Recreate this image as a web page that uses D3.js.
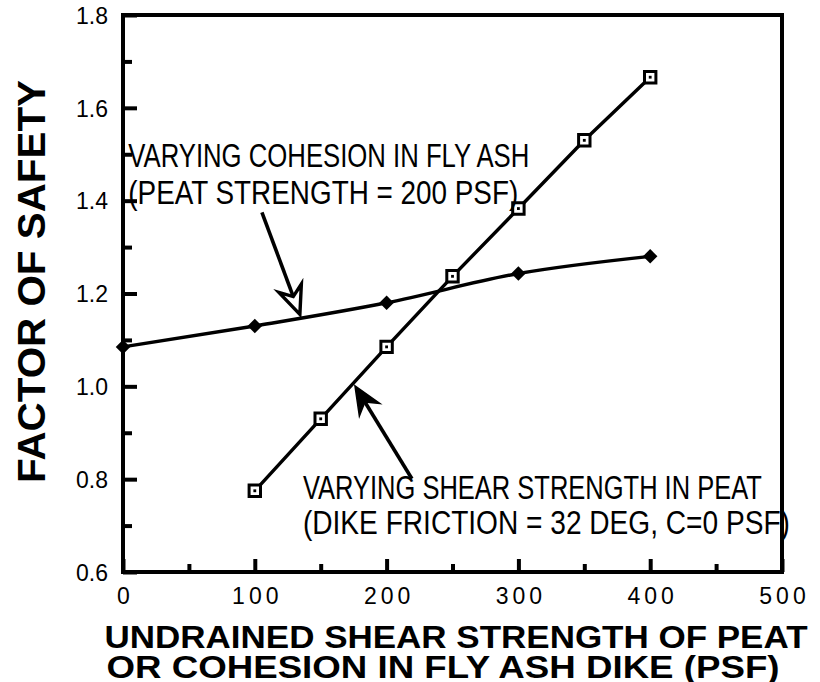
<!DOCTYPE html>
<html>
<head>
<meta charset="utf-8">
<script src="https://cdn.jsdelivr.net/npm/d3@7"></script>
<style>
    html, body { margin: 0; padding: 0; background: #fff; }
    svg text { font-family: "Liberation Sans", Helvetica, Arial, sans-serif; fill: #000; }
</style>
</head>
<body>
<div id="chart"></div>
<script>
// values
var xTicks       = [0, 100, 200, 300, 400, 500];
var xMinorTicks  = [50, 150, 250, 350, 450];
var yTicks       = [0.6, 0.8, 1.0, 1.2, 1.4, 1.6, 1.8];
var yMinorTicks  = [0.7, 0.9, 1.1, 1.3, 1.5, 1.7];

// varying cohesion in fly ash (filled diamonds)
var cohesionX    = [0, 100, 200, 300, 400];
var cohesionFS   = [1.085, 1.13, 1.18, 1.243, 1.28];

// varying shear strength in peat (open squares)
var peatX        = [100, 150, 200, 250, 300, 350, 400];
var peatFS       = [0.775, 0.93, 1.085, 1.237, 1.383, 1.53, 1.666];

var xTitleLines  = ["UNDRAINED SHEAR STRENGTH OF PEAT", "OR COHESION IN FLY ASH DIKE (PSF)"];
var yTitle       = "FACTOR OF SAFETY";
var note1Lines   = ["VARYING COHESION IN FLY ASH", "(PEAT STRENGTH = 200 PSF)"];
var note2Lines   = ["VARYING SHEAR STRENGTH IN PEAT", "(DIKE FRICTION = 32 DEG, C=0 PSF)"];

(function () {

    var W = 820, H = 682;
    var margin = { top: 15, right: 38, bottom: 110, left: 123 };

    var svg = d3.select("#chart").append("svg")
        .attr("width", W)
        .attr("height", H);

    var x = d3.scaleLinear().domain([0, 500]).range([margin.left, W - margin.right]);
    var y = d3.scaleLinear().domain([0.6, 1.8]).range([H - margin.bottom, margin.top]);

    var x0 = x.range()[0], x1 = x.range()[1];
    var y0 = y.range()[0], y1 = y.range()[1];

    // frame (top and right edges have no ticks)
    svg.append("rect")
        .attr("x", x0).attr("y", y1)
        .attr("width", x1 - x0).attr("height", y0 - y1)
        .style("fill", "none")
        .style("stroke", "#000")
        .style("stroke-width", "4px");

    // axes - ticks point into the plot
    var gx = svg.append("g").attr("transform", "translate(0," + y0 + ")");
    gx.call(d3.axisBottom(x).tickValues(xTicks).tickSize(-13).tickSizeOuter(0)
        .tickFormat(d3.format("d")));
    gx.append("g").call(d3.axisBottom(x).tickValues(xMinorTicks).tickSize(-8).tickSizeOuter(0)
        .tickFormat(""));

    var gy = svg.append("g").attr("transform", "translate(" + x0 + ",0)");
    gy.call(d3.axisLeft(y).tickValues(yTicks).tickSize(-14).tickSizeOuter(0).tickPadding(15)
        .tickFormat(d3.format(".1f")));
    gy.append("g").call(d3.axisLeft(y).tickValues(yMinorTicks).tickSize(-9).tickSizeOuter(0)
        .tickFormat(""));

    svg.selectAll(".domain").remove();
    svg.selectAll(".tick line")
        .style("stroke", "#000")
        .style("stroke-width", "4px");

    gx.selectAll(".tick text")
        .style("font-size", "23px")
        .style("letter-spacing", "4px")
        .attr("dx", "2px")
        .attr("dy", 0)
        .attr("y", 32);
    gy.selectAll(".tick text")
        .style("font-size", "23px")
        .attr("dy", "0.36em");

    var cohesion = cohesionX.map(function (v, i) { return { x: v, y: cohesionFS[i] }; });
    var peat     = peatX.map(function (v, i) { return { x: v, y: peatFS[i] }; });

    // cohesion curve (smooth, hand-drawn look)
    svg.append("path")
        .datum(cohesion)
        .style("fill", "none")
        .style("stroke", "#000")
        .style("stroke-width", "3.4px")
        .attr("d", d3.line()
            .x(function (d) { return x(d.x); })
            .y(function (d) { return y(d.y); })
            .curve(d3.curveMonotoneX));

    // peat line (straight segments)
    svg.append("path")
        .datum(peat)
        .style("fill", "none")
        .style("stroke", "#000")
        .style("stroke-width", "3.4px")
        .attr("d", d3.line()
            .x(function (d) { return x(d.x); })
            .y(function (d) { return y(d.y); }));

    // markers
    svg.selectAll(".dia").data(cohesion).enter().append("path")
        .attr("class", "dia")
        .attr("transform", function (d) { return "translate(" + x(d.x) + "," + y(d.y) + ") rotate(45)"; })
        .attr("d", d3.symbol().type(d3.symbolSquare).size(105))
        .style("fill", "#000");

    var sq = svg.selectAll(".sq").data(peat).enter().append("g")
        .attr("class", "sq")
        .attr("transform", function (d) { return "translate(" + x(d.x) + "," + y(d.y) + ")"; });
    sq.append("path")
        .attr("d", d3.symbol().type(d3.symbolSquare).size(130))
        .style("fill", "#fff")
        .style("stroke", "#000")
        .style("stroke-width", "3px");
    sq.append("path")
        .attr("d", d3.symbol().type(d3.symbolSquare).size(8))
        .style("fill", "#000");

    // annotations, placed in data units
    function note(lines, at, baselines, widths) {
        lines.forEach(function (t, i) {
            svg.append("text")
                .attr("x", x(at))
                .attr("y", y(baselines[i]))
                .attr("textLength", widths[i])
                .attr("lengthAdjust", "spacingAndGlyphs")
                .style("font-size", "33px")
                .text(t);
        });
    }
    note(note1Lines, 4, [1.472, 1.392], [401, 390]);
    note(note2Lines, 136.5, [0.758, 0.682], [459, 487]);

    function arrow(from, to, open) {
        var ax = x(from[0]), ay = y(from[1]);
        var bx = x(to[0]),   by = y(to[1]);
        var ang = Math.atan2(by - ay, bx - ax);
        var len = 28, half = 12, notch = 19;
        var c = Math.cos(ang), s = Math.sin(ang);
        var nx = bx - notch * c, ny = by - notch * s;
        svg.append("line")
            .attr("x1", ax).attr("y1", ay)
            .attr("x2", nx).attr("y2", ny)
            .style("stroke", "#000")
            .style("stroke-width", "3.6px");
        var bxL = bx - len * c, byL = by - len * s;
        var pts = [
            [bx, by],
            [bxL - half * s, byL + half * c],
            [nx, ny],
            [bxL + half * s, byL - half * c]
        ];
        svg.append("path")
            .attr("d", "M" + pts.join("L") + "Z")
            .style("fill", open ? "#fff" : "#000")
            .style("stroke", "#000")
            .style("stroke-width", open ? "3.4px" : "1.5px")
            .style("stroke-linejoin", "miter");
    }
    arrow([105.4, 1.375], [134.2, 1.155], true);
    arrow([219.2, 0.801], [176, 1.001], false);

    // axis titles
    svg.append("text")
        .attr("transform", "translate(45," + ((y0 + y1) / 2 - 12) + ") rotate(-90)")
        .attr("text-anchor", "middle")
        .attr("textLength", 403)
        .attr("lengthAdjust", "spacingAndGlyphs")
        .style("font-size", "39px")
        .style("font-weight", "bold")
        .text(yTitle);

    var xtW = [703, 673], xtC = [456, 443], xtB = [648, 678];
    xTitleLines.forEach(function (t, i) {
        svg.append("text")
            .attr("x", xtC[i])
            .attr("y", xtB[i])
            .attr("text-anchor", "middle")
            .attr("textLength", xtW[i])
            .attr("lengthAdjust", "spacingAndGlyphs")
            .style("font-size", "32px")
            .style("font-weight", "bold")
            .text(t);
    });

}());
</script>
</body>
</html>
